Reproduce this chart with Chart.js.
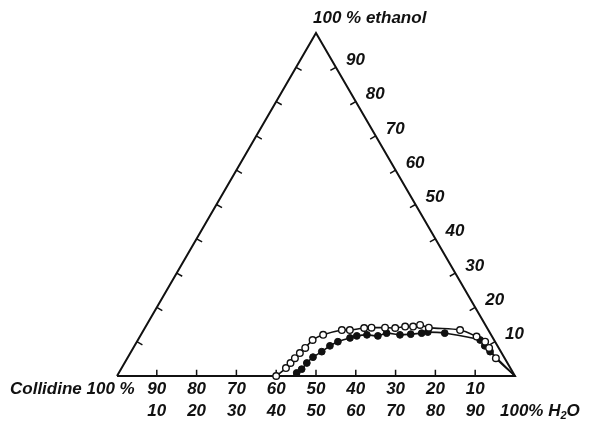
<!DOCTYPE html>
<html>
<head>
<meta charset="utf-8">
<script src="https://cdn.jsdelivr.net/npm/chart.js@4"></script>
<style>
  html, body { margin: 0; padding: 0; background: #fff; }
  #wrap { width: 589px; height: 422px; }
</style>
</head>
<body>
<div id="wrap"><canvas id="myChart"></canvas></div>
<script>
// compositions in % : water and ethanol (collidine is the rest)
var openWater   = [40, 41.3, 41.7, 42.1, 42.6, 43.2, 43.9, 45.8, 49.8, 51.8, 55.1, 56.9, 60.3, 62.9, 65.2, 67.2, 68.7, 71.3, 79.5, 84.6, 87.5, 89.4, 92.6];
var openEthanol = [0, 2.3, 3.8, 5.2, 6.7, 8.2, 10.5, 12.0, 13.4, 13.4, 14.0, 14.1, 14.1, 14.0, 14.4, 14.4, 14.9, 14.1, 13.4, 11.5, 10.0, 8.2, 5.2];

var filledWater   = [44.7, 45.4, 45.8, 46.5, 47.9, 49.1, 50.5, 53.0, 54.4, 56.8, 59.7, 61.5, 65.1, 67.7, 70.3, 71.7, 76.1, 86.0, 88.0, 90.2];
var filledEthanol = [0.9, 2.0, 3.8, 5.5, 7.1, 8.8, 10.0, 11.1, 11.7, 12.0, 11.7, 12.5, 12.0, 12.2, 12.5, 12.8, 12.5, 10.5, 8.8, 7.1];

// where the filled curve meets the base line
var filledStart = [44.2, 0];

var tickValues = [10, 20, 30, 40, 50, 60, 70, 80, 90];
var collidineLabels = ['90', '80', '70', '60', '50', '40', '30', '20', '10'];
var waterLabels     = ['10', '20', '30', '40', '50', '60', '70', '80', '90'];
var ethanolLabels   = ['90', '80', '70', '60', '50', '40', '30', '20', '10'];

var H = Math.sqrt(3) / 2;

// ternary (water, ethanol) -> plane
function tern(w, e) {
  return { x: w + e / 2, y: e * H };
}

var openPts = openWater.map(function (w, i) { return tern(w, openEthanol[i]); });
openPts.push(tern(100, 0));
var filledPts = [tern(filledStart[0], filledStart[1])];
filledWater.forEach(function (w, i) { filledPts.push(tern(w, filledEthanol[i])); });
filledPts.push(tern(100, 0));

var triangle = [tern(0, 0), tern(100, 0), tern(0, 100), tern(0, 0)];

// short ticks pointing into the triangle
var tickLen = 1.6;
var ticks = [];
tickValues.forEach(function (v) {
  // base
  var b = tern(v, 0);
  ticks.push(b, { x: b.x, y: b.y + tickLen }, { x: null, y: null });
  // left side
  var l = tern(0, v);
  ticks.push(l, { x: l.x + tickLen * H, y: l.y - tickLen / 2 }, { x: null, y: null });
  // right side
  var r = tern(100 - v, v);
  ticks.push(r, { x: r.x - tickLen * H, y: r.y - tickLen / 2 }, { x: null, y: null });
});

var font = 'italic bold 17px "Liberation Sans"';

var labelPlugin = {
  id: 'labels',
  afterDatasetsDraw: function (chart) {
    var c = chart.ctx;
    var sx = chart.scales.x, sy = chart.scales.y;
    function px(p) { return [sx.getPixelForValue(p.x), sy.getPixelForValue(p.y)]; }
    c.save();
    c.fillStyle = '#111';
    c.font = font;
    c.textBaseline = 'middle';
    c.textAlign = 'center';

    tickValues.forEach(function (v, i) {
      var b = px(tern(v, 0));
      c.fillText(collidineLabels[i], b[0], 389);
      c.fillText(waterLabels[i], b[0], 411);
      var r = px(tern(100 - v, v));
      c.fillText(ethanolLabels[tickValues.length - 1 - i], r[0] + 19.5, r[1] - 7);
    });

    c.textAlign = 'left';
    c.fillText('Collidine 100 %', 10, 389);

    var top = px(tern(0, 100));
    c.fillText('100 % ethanol', top[0] - 3, 18);

    // 100% H2O with subscript
    var x0 = 500;
    c.fillText('100% H', x0, 411);
    var w = c.measureText('100% H').width;
    c.font = 'italic bold 11px "Liberation Sans"';
    c.fillText('2', x0 + w, 416);
    var w2 = c.measureText('2').width;
    c.font = font;
    c.fillText('O', x0 + w + w2, 411);
    c.restore();
  }
};

var ctx = document.getElementById('myChart');
var myChart = new Chart(ctx, {
  type: 'scatter',
  data: {
    datasets: [
      {
        label: 'open',
        data: openPts,
        showLine: true,
        tension: 0.3,
        borderColor: '#111',
        borderWidth: 1.6,
        pointRadius: function (c) { return c.dataIndex === openPts.length - 1 ? 0 : 3.3; },
        pointBackgroundColor: '#fff',
        pointBorderColor: '#111',
        pointBorderWidth: 1.4,
        order: 0
      },
      {
        label: 'filled',
        data: filledPts,
        showLine: true,
        tension: 0.3,
        borderColor: '#111',
        borderWidth: 1.6,
        pointRadius: function (c) {
          return (c.dataIndex === 0 || c.dataIndex === filledPts.length - 1) ? 0 : 3.4;
        },
        pointBackgroundColor: '#111',
        pointBorderColor: '#111',
        pointBorderWidth: 1,
        order: 1
      },
      {
        label: 'triangle',
        data: triangle,
        showLine: true,
        borderColor: '#111',
        borderWidth: 2,
        pointRadius: 0,
        tension: 0,
        order: 2
      },
      {
        label: 'ticks',
        data: ticks,
        showLine: true,
        spanGaps: false,
        borderColor: '#111',
        borderWidth: 1.5,
        pointRadius: 0,
        tension: 0,
        order: 3
      }
    ]
  },
  options: {
    responsive: true,
    maintainAspectRatio: false,
    animation: false,
    clip: false,
    layout: { padding: 0, autoPadding: false },
    plugins: { legend: { display: false }, tooltip: { enabled: false } },
    scales: {
      x: { type: 'linear', display: false, min: -29.4, max: 118.6 },
      y: { type: 'linear', display: false, min: -11.61, max: 94.93 }
    }
  },
  plugins: [labelPlugin]
});
</script>
</body>
</html>
